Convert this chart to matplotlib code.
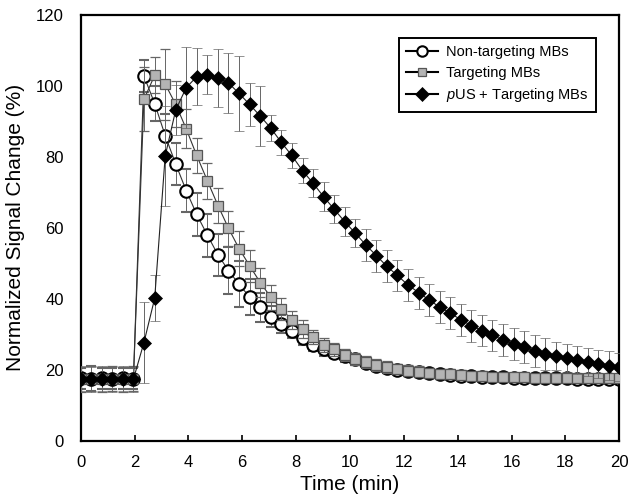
import numpy as np
import matplotlib
matplotlib.use('Agg')
from matplotlib import pyplot as plt
from matplotlib.lines import Line2D

plt.rcParams['font.family'] = ['Liberation Sans', 'DejaVu Sans']
plt.rcParams['mathtext.fontset'] = 'custom'
plt.rcParams['mathtext.rm'] = 'Liberation Sans'
plt.rcParams['mathtext.it'] = 'Liberation Sans:italic'

# time points (min)
time = [0.00, 0.39, 0.78, 1.18, 1.57, 1.96, 2.35, 2.75, 3.14, 3.53, 3.92, 4.31, 4.71,
        5.10, 5.49, 5.88, 6.27, 6.67, 7.06, 7.45, 7.84, 8.24, 8.63, 9.02, 9.41, 9.80,
        10.20, 10.59, 10.98, 11.37, 11.76, 12.16, 12.55, 12.94, 13.33, 13.73, 14.12,
        14.51, 14.90, 15.29, 15.69, 16.08, 16.47, 16.86, 17.25, 17.65, 18.04, 18.43,
        18.82, 19.22, 19.61, 20.00]

non_targeting = [17.6, 17.5, 17.6, 17.5, 17.6, 17.5,
                 102.8, 95.0, 86.0, 78.0, 70.5, 63.8, 57.9, 52.4, 48.0, 44.1, 40.6, 37.6,
                 35.0, 33.0, 30.9, 28.9, 27.0, 25.8, 24.9, 23.9,
                 23.0, 22.0, 21.2, 20.6, 20.1, 19.7, 19.3, 19.0, 18.8, 18.6, 18.4, 18.3,
                 18.1, 18.0, 17.9, 17.8, 17.7, 17.7, 17.6, 17.6, 17.6, 17.5, 17.5, 17.5,
                 17.5, 17.5]
non_targeting_err = [3.0, 3.5, 3.0, 3.0, 3.0, 3.0,
                     4.5, 5.0, 6.0, 6.0, 6.0, 6.0, 6.0, 6.0, 6.5, 6.5, 5.0, 4.0,
                     3.0, 2.5, 2.0, 2.0, 1.8, 1.8, 1.6, 1.6,
                     1.5, 1.5, 1.4, 1.4, 1.3, 1.3, 1.2, 1.2, 1.2, 1.1, 1.1, 1.0,
                     1.0, 1.0, 1.0, 1.0, 1.0, 1.0, 1.0, 1.0, 1.0, 1.0, 1.0, 1.0,
                     1.0, 1.0]

targeting = [17.4, 17.5, 17.4, 17.5, 17.4, 17.5,
             96.2, 103.0, 100.5, 94.8, 87.9, 80.4, 73.2, 66.3, 59.9, 54.2, 49.4, 44.6,
             40.5, 37.2, 34.1, 31.5, 29.2, 27.0, 25.8, 24.2,
             23.1, 22.2, 21.4, 20.8, 20.3, 19.8, 19.5, 19.1, 18.9, 18.8, 18.6, 18.4,
             18.3, 18.1, 18.1, 17.9, 17.9, 17.8, 17.8, 17.8, 17.7, 17.7, 17.7, 17.7,
             17.7, 17.7]
targeting_err = [3.5, 3.5, 3.5, 3.5, 3.5, 3.5,
                 9.0, 5.0, 10.0, 6.5, 5.5, 5.0, 5.0, 5.0, 5.0, 5.0, 4.5, 4.0,
                 3.5, 3.0, 2.5, 2.5, 2.0, 2.0, 1.8, 1.8,
                 1.7, 1.7, 1.6, 1.6, 1.5, 1.5, 1.5, 1.5, 1.4, 1.4, 1.4, 1.3,
                 1.3, 1.3, 1.3, 1.2, 1.2, 1.2, 1.2, 1.2, 1.2, 1.2, 1.2, 1.2,
                 1.2, 1.2]

pus_targeting = [17.5, 17.4, 17.5, 17.4, 17.5, 17.4,
                 27.7, 40.2, 80.3, 93.2, 99.5, 102.6, 103.1, 102.3, 100.8, 97.9, 94.8, 91.5,
                 88.1, 84.1, 80.4, 76.1, 72.6, 68.8, 65.3, 61.8,
                 58.5, 55.2, 52.2, 49.2, 46.6, 43.9, 41.8, 39.7, 37.7, 36.0, 34.1, 32.5,
                 31.1, 29.7, 28.5, 27.3, 26.4, 25.4, 24.5, 23.9, 23.3, 22.8, 22.2, 21.6,
                 21.2, 20.8]
pus_targeting_err = [3.5, 3.5, 3.5, 3.5, 3.5, 3.5,
                     11.5, 6.5, 14.0, 7.0, 11.5, 8.0, 5.5, 8.2, 8.5, 10.6, 6.0, 8.4,
                     3.6, 3.5, 3.5, 3.5, 4.0, 4.0, 4.0, 4.0,
                     4.0, 4.5, 4.5, 4.5, 4.5, 4.5, 4.5, 4.5, 4.5, 4.5, 4.5, 4.5,
                     4.5, 4.5, 4.5, 4.5, 4.5, 4.5, 4.5, 4.0, 4.0, 4.0, 4.0, 4.0,
                     4.0, 4.0]

labels = ['Non-targeting MBs', 'Targeting MBs', r'$\it{p}$US + Targeting MBs']

fig = plt.figure(figsize=(6.3, 4.96), dpi=100)
ax = fig.add_axes([0.128, 0.111, 0.855, 0.859])

err_style = dict(ecolor='#666666', elinewidth=0.7, capsize=3.5, capthick=0.7)
circle_style = dict(marker='o', mfc='white', mec='black', mew=1.5)
square_style = dict(marker='s', mfc='#b4b4b4', mec='#555555', mew=0.9)
diamond_style = dict(marker='D', mfc='black', mec='black', mew=0.5)

ax.errorbar(time, non_targeting, yerr=non_targeting_err, color='#333333', lw=0.8,
            ms=9, zorder=2, **circle_style, **err_style)
ax.errorbar(time, targeting, yerr=targeting_err, color='#333333', lw=0.8,
            ms=7, zorder=3, **square_style, **err_style)
ax.errorbar(time, pus_targeting, yerr=pus_targeting_err, color='#222222', lw=0.8,
            ms=7.5, zorder=4, **diamond_style, **err_style)

ax.set_xlim(0, 20)
ax.set_ylim(0, 120)
ax.set_xticks(np.arange(0, 21, 2))
ax.set_yticks(np.arange(0, 121, 20))
ax.tick_params(axis='x', direction='in', length=4, width=1.2, labelsize=12, pad=10)
ax.tick_params(axis='y', length=0, labelsize=12, pad=12)
for side in ['left', 'bottom', 'top', 'right']:
    ax.spines[side].set_linewidth(1.6)

ax.set_xlabel('Time (min)', fontsize=15, labelpad=4)
ax.set_ylabel('Normalized Signal Change (%)', fontsize=15, labelpad=8)

# legend shows line + marker only, without error bars
handles = [Line2D([], [], color='black', lw=1.5, ms=7.5, **circle_style),
           Line2D([], [], color='black', lw=1.5, ms=6, **square_style),
           Line2D([], [], color='black', lw=1.5, ms=7, **diamond_style)]
leg = ax.legend(handles, labels, loc='upper left', bbox_to_anchor=(0.591, 0.946),
                fontsize=10.5, frameon=True, fancybox=False, edgecolor='black',
                framealpha=1, handlelength=2.2, handletextpad=0.55, borderpad=0.5,
                labelspacing=0.45, borderaxespad=0)
leg.get_frame().set_linewidth(1.4)

plt.savefig('out.png', dpi=100)
